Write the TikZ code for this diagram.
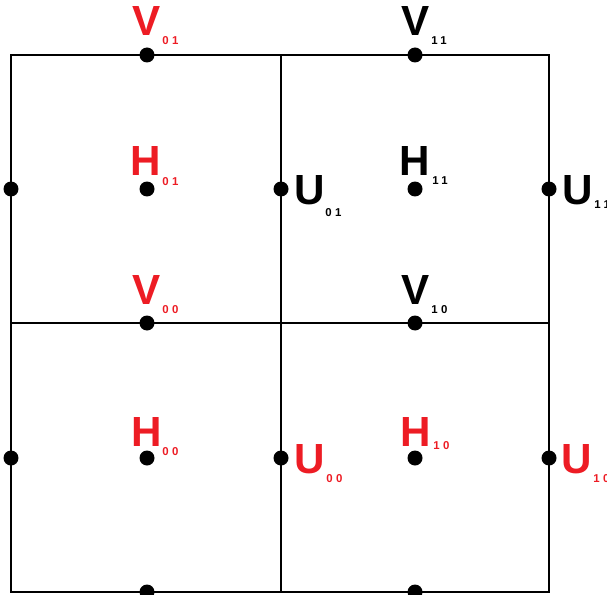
\documentclass[tikz,border=0pt]{standalone}
\usepackage{fontspec}
\setmainfont{Liberation Sans}
\newfontfamily\indfont[LetterSpace=30]{Liberation Sans}
\usetikzlibrary{positioning}
\usepackage{xcolor}
\definecolor{rojo}{RGB}{237,28,36}

\begin{document}
\begin{tikzpicture}[
  x=0.02cm, y=-0.02cm,
  rejilla/.style={line width=0.04cm},
  punto/.style={circle, fill=black, inner sep=0pt, minimum size=0.3cm},
  letra/.style={inner sep=0pt, anchor=base, font=\bfseries\fontsize{24}{24}\selectfont},
  indice/.style={inner sep=0pt, anchor=base west, font=\indfont\bfseries\fontsize{6.5}{7}\selectfont}
]
\useasboundingbox (0,0) rectangle (607,594);
\clip (0,0) rectangle (607,594);
% rejilla de celdas
\draw[rejilla] (11,55) rectangle (549,592);
\draw[rejilla] (281,55) -- (281,592);
\draw[rejilla] (11,323) -- (549,323);
% puntos: centros de celda
\node[punto] (h01) at (147,189) {};
\node[punto] (h11) at (415,189) {};
\node[punto] (h00) at (147,458) {};
\node[punto] (h10) at (415,458) {};
% puntos: aristas horizontales
\node[punto] (v01) at (147,55) {};
\node[punto] (v11) at (415,55) {};
\node[punto] (v00) at (147,323) {};
\node[punto] (v10) at (415,323) {};
\node[punto] (vb0) at (147,592) {};
\node[punto] (vb1) at (415,592) {};
% puntos: aristas verticales
\node[punto] (ul1) at (11,189) {};
\node[punto] (ul0) at (11,458) {};
\node[punto] (u01) at (281,189) {};
\node[punto] (u00) at (281,458) {};
\node[punto] (u11) at (549,189) {};
\node[punto] (u10) at (549,458) {};
% etiquetas V
\node[letra, rojo] (lv01) at (147,36) {V};
\node[indice, rojo] at (162,45) {01};
\node[letra] (lv11) at (416,36) {V};
\node[indice] at (431,45) {11};
\node[letra, rojo] (lv00) at (147,304) {V};
\node[indice, rojo] at (162,313) {00};
\node[letra] (lv10) at (416,304) {V};
\node[indice] at (431,313) {10};
% etiquetas H
\node[letra, rojo] (lh01) at (146,176) {H};
\node[indice, rojo] at (162,186) {01};
\node[letra] (lh11) at (415,176) {H};
\node[indice] at (432,185) {11};
\node[letra, rojo] (lh00) at (147,446) {H};
\node[indice, rojo] at (162,455) {00};
\node[letra, rojo] (lh10) at (416,446) {H};
\node[indice, rojo] at (433,449) {10};
% etiquetas U
\node[letra] (lu01) at (310,205) {U};
\node[indice] at (325,216) {01};
\node[letra] (lu11) at (578,205) {U};
\node[indice] at (594,209) {11};
\node[letra, rojo] (lu00) at (310,473) {U};
\node[indice, rojo] at (326,482) {00};
\node[letra, rojo] (lu10) at (577,473) {U};
\node[indice, rojo] at (593,482) {10};
\end{tikzpicture}
\end{document}
